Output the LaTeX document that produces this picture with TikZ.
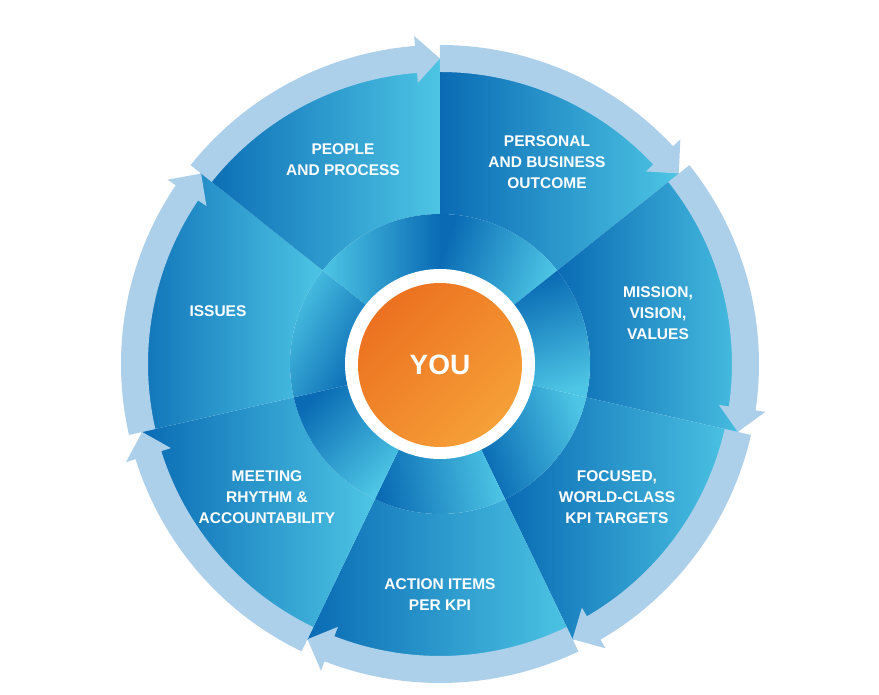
\documentclass[tikz,border=0pt]{standalone}
\usepackage{fontspec}
\setmainfont{Liberation Sans}
\definecolor{ringblue}{HTML}{ADD0EA}
\definecolor{wedgedark}{HTML}{0A6BB4}
\definecolor{wedgelight}{HTML}{4DC5E4}
\definecolor{youdark}{HTML}{EC7120}
\definecolor{youlight}{HTML}{F6A038}

\begin{document}
\begin{tikzpicture}[
    wedge/.style={left color=wedgedark, right color=wedgelight},
    ringpart/.style={top color=wedgelight, bottom color=wedgedark},
    ringarrow/.style={fill=ringblue},
    segtext/.style={text=white, font=\bfseries\fontsize{15.5}{21}\selectfont, align=center}
  ]
  \useasboundingbox (-440pt,-331pt) rectangle (439pt,364pt);

  \foreach \i in {0,...,6} {
    \pgfmathsetmacro\a{90-51.4286*\i}
    \pgfmathsetmacro\b{\a-51.4286}
    \path[wedge] (\a:150pt) arc[start angle=\a, end angle=\b, radius=150pt]
      -- (\b:306pt) arc[start angle=\b, end angle=\a, radius=306pt] -- cycle;
  }

  \foreach \i/\ang in {0/-20,1/-70,2/20,3/10,4/-45,5/150,6/180} {
    \pgfmathsetmacro\a{90-51.4286*\i}
    \pgfmathsetmacro\b{\a-51.4286}
    \pgfmathsetmacro\s{\ang-90}
    \path[ringpart, shading angle=\s] (\a:94pt) arc[start angle=\a, end angle=\b, radius=94pt]
      -- (\b:150pt) arc[start angle=\b, end angle=\a, radius=150pt] -- cycle;
  }

  \foreach \i in {0,...,6} {
    \pgfmathsetmacro\a{90-51.4286*\i}
    \pgfmathsetmacro\b{\a-51.4286}
    \pgfmathsetmacro\c{\b+4.5}
    \fill[ringarrow] (\a:292pt) arc[start angle=\a, end angle=\c, radius=292pt]
      -- (\c:282pt) -- (\b:305.5pt) -- (\c:329pt) -- (\c:319pt)
      arc[start angle=\c, end angle=\a, radius=319pt] -- cycle;
  }

  \fill[white] (0,0) circle[radius=95pt];
  \node[circle, inner sep=0pt, minimum size=164pt, top color=youdark, bottom color=youlight,
    shading angle=45, text=white, font=\bfseries\fontsize{28}{32}\selectfont] (you) at (0pt,-1pt) {YOU};

  \node[segtext] (people) at (-97pt,204pt) {PEOPLE\\AND PROCESS};
  \node[segtext] (outcome) at (107pt,202pt) {PERSONAL\\AND BUSINESS\\OUTCOME};
  \node[segtext] (mission) at (218pt,51pt) {MISSION,\\VISION,\\VALUES};
  \node[segtext] (targets) at (177pt,-133pt) {FOCUSED,\\WORLD-CLASS\\KPI TARGETS};
  \node[segtext] (actions) at (0pt,-231pt) {ACTION ITEMS\\PER KPI};
  \node[segtext] (meeting) at (-173pt,-133pt) {MEETING\\RHYTHM \&\\ACCOUNTABILITY};
  \node[segtext] (issues) at (-222pt,53pt) {ISSUES};
\end{tikzpicture}
\end{document}
